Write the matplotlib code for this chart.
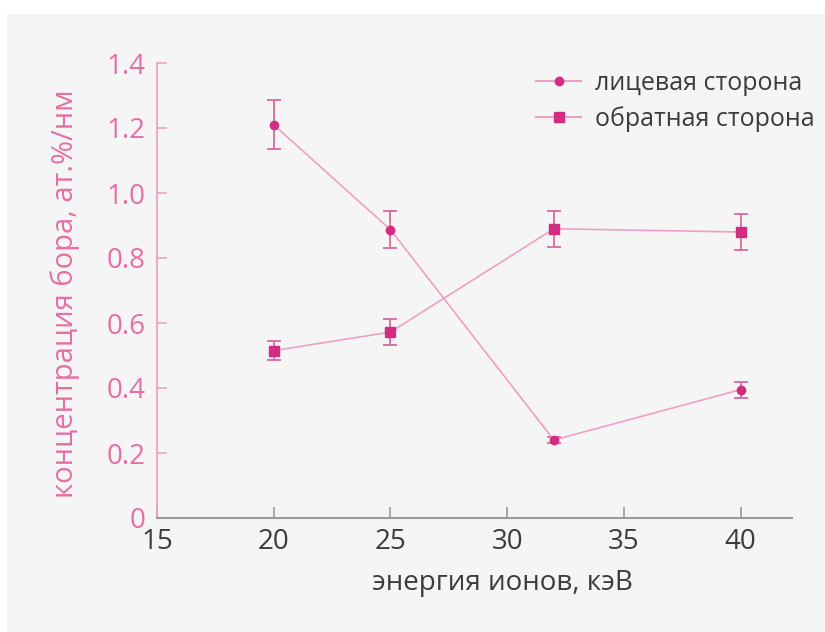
import matplotlib
matplotlib.use("Agg")
import matplotlib.pyplot as plt
from matplotlib.patches import Rectangle
from matplotlib.lines import Line2D

# Boron concentration vs ion energy
energy = [20, 25, 32, 40]
front_side = [1.21, 0.887, 0.24, 0.395]
front_err = [0.075, 0.057, 0.01, 0.025]
back_side = [0.515, 0.572, 0.89, 0.88]
back_err = [0.03, 0.04, 0.055, 0.054]

series_labels = ["лицевая сторона", "обратная сторона"]
x_ticks = [15, 20, 25, 30, 35, 40]
y_ticks = [0, 0.2, 0.4, 0.6, 0.8, 1.0, 1.2, 1.4]
y_tick_labels = ["0", "0.2", "0.4", "0.6", "0.8", "1.0", "1.2", "1.4"]

MARKER_COLOR = "#d42c80"
LINE_COLOR = "#ee9fc4"
ERR_COLOR = "#d66a9e"
PINK_TEXT = "#e46fa6"
GRAY_TEXT = "#3c3c3c"
FONT_SIZE = 20

plt.rcParams['font.family'] = ["Open Sans", "DejaVu Sans"]

fig = plt.figure(figsize=(8.25, 6.32), dpi=100)
fig.patch.set_facecolor("white")
fig.patches.append(Rectangle((7 / 825, 0), 1, (632 - 14) / 632,
                             transform=fig.transFigure, facecolor="#f5f5f5",
                             edgecolor="none", zorder=-10))

ax = fig.add_axes([157 / 825, 1 - 518 / 632, (792 - 157) / 825, (518 - 63) / 632])
ax.set_facecolor("none")

ax.errorbar(energy, front_side, yerr=front_err, color=LINE_COLOR, lw=1.2,
            marker="o", ms=6, mfc=MARKER_COLOR, mec=MARKER_COLOR,
            ecolor=ERR_COLOR, elinewidth=1.3, capsize=5, capthick=1.3)
ax.errorbar(energy, back_side, yerr=back_err, color=LINE_COLOR, lw=1.2,
            marker="s", ms=6.5, mfc=MARKER_COLOR, mec=MARKER_COLOR,
            ecolor=ERR_COLOR, elinewidth=1.3, capsize=5, capthick=1.3)

ax.set_xlim(15, 42.2)
ax.set_ylim(0, 1.4)
ax.set_xticks(x_ticks)
ax.set_yticks(y_ticks)
ax.set_yticklabels(y_tick_labels)

for s in ["top", "right"]:
    ax.spines[s].set_visible(False)
ax.spines["left"].set_color("#e9a3c6")
ax.spines["left"].set_linewidth(1.3)
ax.spines["bottom"].set_color("#9a9a9a")
ax.spines["bottom"].set_linewidth(1.5)

ax.tick_params(axis="y", direction="in", length=7, width=1.2, color="#e9a3c6",
               labelcolor=PINK_TEXT, labelsize=FONT_SIZE, pad=8)
ax.tick_params(axis="x", direction="in", length=8, width=1.2, color="#9a9a9a",
               labelcolor=GRAY_TEXT, labelsize=FONT_SIZE, pad=7)

ax.set_xlabel("энергия ионов, кэВ", color=GRAY_TEXT, fontsize=FONT_SIZE, va="center")
ax.xaxis.set_label_coords((502 - 157) / 635, -65 / 455)
ax.set_ylabel("концентрация бора, ат.%/нм", color=PINK_TEXT, fontsize=FONT_SIZE + 1, va="center")
ax.yaxis.set_label_coords(-(157 - 65) / 635, (518 - 294) / 455)

# legend handles without the error bars
handles = [
    Line2D([], [], color=LINE_COLOR, lw=1.5, marker="o", ms=6,
           mfc=MARKER_COLOR, mec=MARKER_COLOR),
    Line2D([], [], color=LINE_COLOR, lw=1.5, marker="s", ms=6.5,
           mfc=MARKER_COLOR, mec=MARKER_COLOR),
]
leg = ax.legend(handles, series_labels, loc="upper left",
                bbox_to_anchor=(526 / 825, 1 - 61 / 632),
                bbox_transform=fig.transFigure, frameon=False,
                fontsize=FONT_SIZE - 2, handlelength=1.8, handletextpad=0.55,
                labelspacing=0.4, borderaxespad=0)
for t in leg.get_texts():
    t.set_color(GRAY_TEXT)

fig.savefig("out.png", dpi=100)
